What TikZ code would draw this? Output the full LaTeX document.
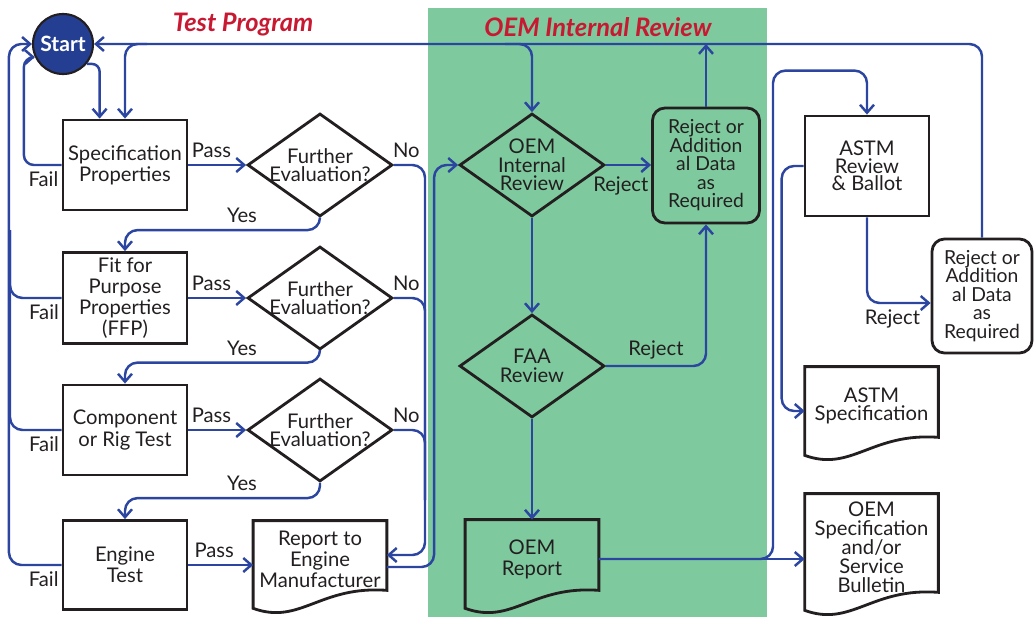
\documentclass[tikz,border=0pt]{standalone}
\usepackage{fontspec}
\setmainfont{Lato}
\usetikzlibrary{arrows.meta,calc,shapes.geometric}

\definecolor{flowblue}{RGB}{43,69,160}
\definecolor{startblue}{RGB}{36,63,146}
\definecolor{oemgreen}{RGB}{126,202,158}
\definecolor{titlered}{RGB}{200,25,50}
\definecolor{ink}{RGB}{35,31,32}

\begin{document}
\begin{tikzpicture} [
  x=0.2mm, y=-0.2mm,
  every node/.style={text=ink, font=\fontsize{11.5}{12}\selectfont},
  flow/.style={draw=flowblue, line width=1.4pt, rounded corners=2.5mm,
    -{Straight Barb[length=1.6mm,width=2.8mm]}},
  wire/.style={flow, -},
  box/.style={draw=ink, line width=1.6pt, align=center, inner sep=1pt,
    minimum width=2.48cm, minimum height=1.8cm},
  rej/.style={box, rounded corners=2.5mm, minimum width=2.14cm, minimum height=2.3cm,
    font=\fontsize{11}{10.5}\selectfont},
  dia/.style={diamond, draw=ink, line width=1.6pt, inner sep=0pt,
    minimum width=2.9cm, minimum height=2.06cm},
  diatext/.style={align=center, font=\fontsize{11.5}{10.5}\selectfont},
  doc/.style={align=center, inner sep=1pt, minimum width=2.66cm},
  docline/.style={draw=ink, line width=1.6pt},
  startnode/.style={circle, fill=startblue, draw=ink, line width=1.2pt,
    minimum size=1.2cm, inner sep=0pt, text=white, font=\fontsize{12}{12}\bfseries},
  titletext/.style={text=titlered, font=\fontsize{14.5}{15}\bfseries\itshape}]

\useasboundingbox (0,0) rectangle (1036,617);
\fill[oemgreen] (428,8) rectangle (767,617);

\node[titletext] (testtitle) at (243,25) {Test Program};
\node[titletext] (oemtitle) at (598,27) {OEM Internal Review};

% test program column
\node[startnode] (start) at (63,44) {Start};
\node[box] (spec) at (125,165) {Specification\\Properties};
\node[box, minimum height=1.82cm] (ffp) at (125,298) {Fit for\\Purpose\\Properties\\(FFP)};
\node[box] (comp) at (125,430) {Component\\or Rig Test};
\node[box, minimum height=1.78cm] (engine) at (125,565) {Engine\\Test};

\node[dia, label={[diatext]center:Further\\Evaluation?}] (fe1) at (320,165) {};
\node[dia, label={[diatext]center:Further\\Evaluation?}] (fe2) at (320,298) {};
\node[dia, label={[diatext]center:Further\\Evaluation?}] (fe3) at (320,430) {};
\node[doc, minimum height=1.54cm] (report) at (320,559.5) {Report to\\Engine\\Manufacturer};

% OEM review
\node[dia, label={[diatext]center:OEM\\Internal\\Review}] (oemir) at (532,165) {};
\node[rej] (rej1) at (706,165.5) {Reject or\\Addition\\al Data\\as\\Required};
\node[dia, label={[diatext]center:FAA\\Review}] (faa) at (532,366) {};
\node[doc, minimum height=1.56cm] (oemrep) at (532,559) {OEM\\Report};

% ASTM side
\node[box, minimum height=2cm, font=\fontsize{11.5}{10}\selectfont] (astm) at (867,166) {ASTM\\Review\\\& Ballot};
\node[rej, minimum width=2cm, minimum height=2.28cm] (rej2) at (982,296) {Reject or\\Addition\\al Data\\as\\Required};
\node[doc, minimum height=1.56cm, font=\fontsize{11.5}{10.5}\selectfont] (astmspec) at (871.5,406) {ASTM\\Specification};
\node[doc, minimum height=2.12cm, font=\fontsize{11.5}{10.8}\selectfont] (oemspec) at (871.5,547) {OEM\\Specification\\and/or\\Service\\Bulletin};

\foreach \d in {report,oemrep,astmspec,oemspec}
  \draw[docline] (\d.north west) -- (\d.north east) -- ($(\d.south east)+(0,-8)$)
    .. controls +(-67,-5) and +(47,17) .. ($(\d.south west)+(0,10)$) -- cycle;

% connectors
\coordinate (failbus) at (10,230);
\coordinate (nobus) at (425,500);
\coordinate (repin) at ([yshift=0.9mm]report.east);
\coordinate (repout) at ([yshift=-1.5mm]report.east);
\coordinate (oemout) at (oemrep.east);

\draw[flow, rounded corners=1.5mm] (start.-40) -| ($(spec.north west)+(38,0)$);
\draw[flow, rounded corners=2mm] (spec.west) -| node[pos=0.24, below] {Fail} ($(start.205)+(-11,0)$) -- (start.205);
\draw[flow] (engine.west) -| node[pos=0.17, below] {Fail} ($(start.west)+(-23,0)$) -- (start.west);
\draw[wire] (ffp.west) -| node[pos=0.17, below] {Fail} (failbus);
\draw[wire] (comp.west) -| node[pos=0.17, below] {Fail} (failbus);

\draw[flow] (spec.east) -- node[above, pos=0.4] {Pass} (fe1.west);
\draw[flow] (ffp.east) -- node[above, pos=0.4] {Pass} (fe2.west);
\draw[flow] (comp.east) -- node[above, pos=0.4] {Pass} (fe3.west);
\draw[flow] (engine.east) -- node[above, pos=0.4] {Pass} (engine.east -| report.west);

\draw[flow] (fe1.south) |- node[above, pos=0.7] {Yes} ($(ffp.north)+(0,-21)$) -- (ffp.north);
\draw[flow] (fe2.south) |- node[above, pos=0.7] {Yes} ($(comp.north)+(0,-21)$) -- (comp.north);
\draw[flow] (fe3.south) |- node[above, pos=0.7] {Yes} ($(engine.north)+(0,-21)$) -- (engine.north);

\draw[flow] (fe1.east) -| node[above, pos=0.2] {No} (repin -| nobus) -- (repin);
\draw[wire] (fe2.east) -| node[above, pos=0.2] {No} (nobus);
\draw[wire] (fe3.east) -| node[above, pos=0.2] {No} (nobus);

\draw[flow] (repout) -| ($(oemir.west)+(-24,0)$) -- (oemir.west);

\draw[flow] (rej2.north) |- (start.east);
\draw[flow] ($(spec.north |- start.east)+(22,0)$) -| (spec.north);
\draw[flow] ($(oemir.north |- start.east)+(-27,0)$) -| (oemir.north);
\draw[flow] (rej1.north) -- (rej1.north |- start.east);

\draw[flow] (oemir.east) -- node[below=1mm, pos=0.33] {Reject} (oemir.east -| rej1.west);
\draw[flow] (oemir.south) -- (faa.north);
\draw[flow] (faa.east) -| node[above, pos=0.25] {Reject} (rej1.south);
\draw[flow] (faa.south) -- (oemrep.north);

\draw[flow] (oemout) -- (oemout -| oemspec.west);
\draw[flow] (oemout) -| ($(astm.north)+(-94,-44)$) -| (astm.north);
\draw[flow] (astm.west) -| ($(astmspec.west)+(-23,5)$) -- ([yshift=-1mm]astmspec.west);
\draw[flow] (astm.south) |- node[below, pos=0.7] {Reject} ([yshift=-1.4mm]rej2.west);
\end{tikzpicture}
\end{document}
